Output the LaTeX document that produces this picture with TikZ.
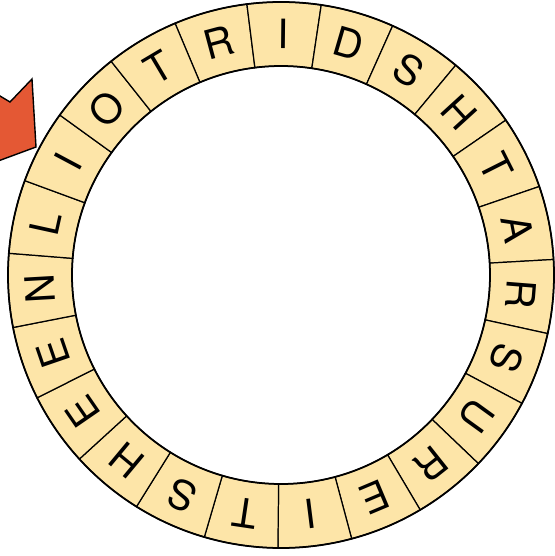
\documentclass[tikz,border=0pt]{standalone}
\usepackage{fontspec}
\setmainfont{TeX Gyre Heros}
\definecolor{ringfill}{RGB}{253,229,168}
\definecolor{arroworange}{RGB}{228,88,52}
\begin{document}
\begin{tikzpicture}[x=0.02cm,y=0.02cm,
  cell/.style={fill=ringfill,draw=black,line width=0.7pt},
  letter/.style={font=\fontsize{23}{23}\selectfont}]
  \useasboundingbox (0,0) rectangle (555,556);
  \coordinate (centre) at (281,281);

  % arrow coming in from the left edge
  \begin{scope}
    \clip (0,0) rectangle (555,556);
    \draw[fill=arroworange,line width=0.8pt] (-10,466) -- (10,454) -- (32,477) -- (36,409) -- (-10,392) -- cycle;
  \end{scope}

  % ring of letters
  \foreach \ch [count=\i from 0] in {R,I,D,S,H,T,A,R,S,U,R,E,I,T,S,H,E,E,N,L,I,O,T}{
    \pgfmathsetmacro{\a}{105-\i*360/23}
    \pgfmathsetmacro{\lo}{\a-180/23}
    \pgfmathsetmacro{\hi}{\a+180/23}
    \draw[cell,shift={(centre)}] (\lo:209) arc[start angle=\lo,end angle=\hi,radius=209]
      -- (\hi:273) arc[start angle=\hi,end angle=\lo,radius=273] -- cycle;
    \node[letter,rotate=\a-90] (cell\i) at ([shift={(\a:241)}]centre) {\ch};
  }
  \draw[line width=1pt] (centre) circle[radius=273] (centre) circle[radius=209];
\end{tikzpicture}
\end{document}
